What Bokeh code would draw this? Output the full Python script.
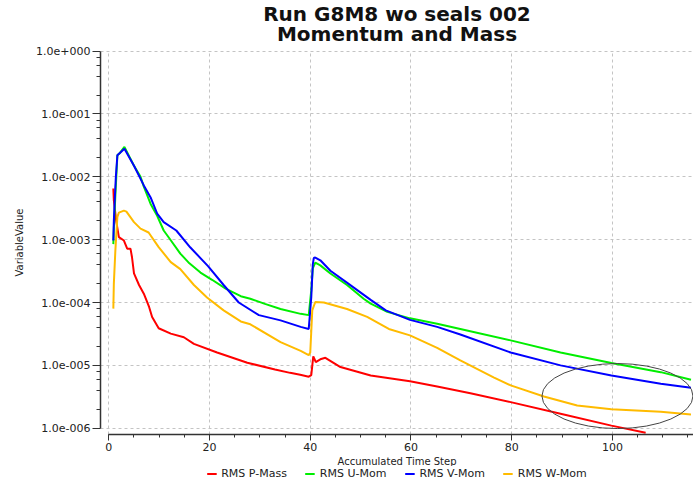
from bokeh.plotting import figure
from bokeh.models import (Range1d, FixedTicker, SingleIntervalTicker, CustomJSTickFormatter,
                          Legend, LegendItem, Title)
from bokeh.layouts import column
from bokeh.embed import file_html
from bokeh.resources import INLINE

# ---------------- data ----------------
title_line1 = "Run G8M8 wo seals 002"
title_line2 = "Momentum and Mass"
x_label = "Accumulated Time Step"
y_label = "VariableValue"
series_names = ["RMS P-Mass", "RMS U-Mom", "RMS V-Mom", "RMS W-Mom"]
series_colors = ["#ff0000", "#00ee00", "#0000ff", "#ffbb00"]

p_mass_x = [0.9, 1.0, 1.5, 2.0, 3.0, 3.65, 4.3, 4.6, 5.0, 6.0, 6.95, 8.0, 8.6, 9.9, 12.3, 14.9,
            16.9, 21.5, 27.5, 33.0, 36.0, 38.0, 39.7, 40.2, 40.6, 41.1, 42.0, 43.0, 46.0, 52.0,
            59.8, 65.2, 71.8, 79.8, 89.7, 99.8, 106.6]
p_mass_y = [6.5e-3, 4.2e-3, 1.9e-3, 1.1e-3, 9.7e-4, 7.2e-4, 7.2e-4, 5.3e-4, 2.9e-4, 1.9e-4, 1.38e-4,
            8.5e-5, 5.9e-5, 3.9e-5, 3.2e-5, 2.8e-5, 2.2e-5, 1.6e-5, 1.1e-5, 8.6e-6, 7.6e-6, 7.1e-6,
            6.6e-6, 7.0e-6, 1.39e-5, 1.13e-5, 1.25e-5, 1.32e-5, 9.4e-6, 6.9e-6, 5.6e-6, 4.6e-6,
            3.6e-6, 2.6e-6, 1.7e-6, 1.1e-6, 8.5e-7]

u_mom_x = [0.9, 1.0, 1.3, 1.7, 2.2, 3.1, 5.0, 6.3, 6.95, 8.3, 9.6, 10.9, 12.3, 14.2, 16.0, 18.2,
           20.5, 23.2, 26.2, 28.1, 31.0, 34.1, 38.1, 39.7, 40.2, 40.5, 41.0, 42.0, 44.0, 47.3,
           50.6, 52.0, 55.3, 59.8, 65.2, 69.8, 79.8, 89.7, 99.8, 109.6, 115.6]
u_mom_y = [8.5e-4, 1.5e-3, 5.0e-3, 2.2e-2, 2.4e-2, 3.0e-2, 1.5e-2, 1.0e-2, 7.0e-3, 3.7e-3, 2.4e-3,
           1.4e-3, 9.8e-4, 6.0e-4, 4.2e-4, 3.0e-4, 2.3e-4, 1.66e-4, 1.26e-4, 1.15e-4, 9.5e-5,
           7.9e-5, 6.6e-5, 6.3e-5, 1.56e-4, 3.5e-4, 4.3e-4, 3.9e-4, 2.9e-4, 1.9e-4, 1.15e-4,
           9.6e-5, 7.1e-5, 5.6e-5, 4.6e-5, 3.8e-5, 2.5e-5, 1.6e-5, 1.09e-5, 7.8e-6, 5.9e-6]

v_mom_x = [0.9, 1.0, 1.2, 1.4, 1.7, 2.2, 3.1, 5.0, 6.95, 8.3, 9.6, 10.9, 13.4, 16.2, 19.7, 22.8,
           25.8, 29.8, 34.1, 38.1, 39.7, 40.2, 40.5, 40.7, 41.0, 42.0, 44.0, 47.0, 52.0, 55.0,
           59.8, 65.2, 69.8, 79.8, 89.7, 99.8, 109.6, 115.6]
v_mom_y = [9.7e-4, 2.0e-3, 4.7e-3, 1.0e-2, 2.2e-2, 2.4e-2, 2.8e-2, 1.5e-2, 7.3e-3, 4.7e-3, 2.6e-3,
           1.9e-3, 1.4e-3, 7.5e-4, 3.8e-4, 1.9e-4, 1.0e-4, 6.3e-5, 5.2e-5, 4.1e-5, 3.8e-5, 1.2e-4,
           4.0e-4, 5.1e-4, 5.2e-4, 4.7e-4, 3.2e-4, 2.15e-4, 1.1e-4, 7.5e-5, 5.3e-5, 4.1e-5,
           3.1e-5, 1.6e-5, 1.0e-5, 6.9e-6, 5.1e-6, 4.4e-6]

w_mom_x = [0.9, 1.0, 1.3, 1.7, 2.0, 3.0, 3.5, 5.0, 6.3, 7.9, 9.9, 12.3, 14.2, 16.9, 19.5, 22.8,
           26.2, 28.1, 34.1, 38.1, 39.7, 40.0, 40.4, 41.0, 42.7, 47.3, 51.3, 55.6, 59.8, 65.2,
           69.8, 76.5, 79.8, 86.4, 93.0, 99.8, 109.6, 115.6]
w_mom_y = [8.0e-5, 2.0e-4, 6.7e-4, 2.3e-3, 2.7e-3, 2.9e-3, 2.8e-3, 1.9e-3, 1.5e-3, 1.3e-3, 7.6e-4,
           4.4e-4, 3.4e-4, 1.9e-4, 1.2e-4, 7.5e-5, 5.0e-5, 4.5e-5, 2.35e-5, 1.7e-5, 1.45e-5,
           1.6e-5, 7.5e-5, 1.02e-4, 1.0e-4, 7.9e-5, 5.9e-5, 3.8e-5, 3.0e-5, 1.9e-5, 1.2e-5,
           6.4e-6, 4.8e-6, 3.2e-6, 2.3e-6, 2.0e-6, 1.82e-6, 1.66e-6]

y_ticks = [1e-6, 1e-5, 1e-4, 1e-3, 1e-2, 1e-1, 1e0]
y_minor_mantissas = [2, 4, 6, 8]
x_tick_interval = 20

# annotation ellipse (data centre, screen size)
ell_x = [101.0]
ell_y = [3.25e-6]

# ---------------- main figure ----------------
FONT = "DejaVu Sans"
p = figure(frame_width=593, frame_height=384,
           x_range=Range1d(-1.65, 116.1), y_range=Range1d(10 ** -6.1, 10 ** 0.01),
           y_axis_type="log", output_backend="svg", toolbar_location=None,
           min_border_left=100, min_border_top=50, min_border_right=0, min_border_bottom=0)
p.outline_line_color = None
p.background_fill_color = "white"
p.border_fill_color = "white"

y_minor = [m * t for t in y_ticks[:-1] for m in y_minor_mantissas]
yt = FixedTicker(ticks=y_ticks, minor_ticks=y_minor)
p.yaxis.ticker = yt
p.ygrid.ticker = yt
xt = SingleIntervalTicker(interval=x_tick_interval, num_minor_ticks=4)
p.xaxis.ticker = xt
p.xgrid.ticker = xt

p.yaxis.formatter = CustomJSTickFormatter(code="""
const e = Math.round(Math.log10(tick));
const s = e < 0 ? '-' : '+';
return '1.0e' + s + String(Math.abs(e)).padStart(3, '0');
""")

for ax in (p.xaxis, p.yaxis):
    ax.axis_line_color = "#333333"
    ax.axis_line_width = 1.5
    ax.major_tick_line_color = "#333333"
    ax.minor_tick_line_color = "#333333"
    ax.major_tick_in = 0
    ax.minor_tick_in = 0
    ax.major_label_text_font = FONT
    ax.major_label_text_font_size = "11px"
    ax.major_label_text_color = "#222222"
    ax.axis_label_text_font = FONT
    ax.axis_label_text_font_size = "10px"
    ax.axis_label_text_font_style = "normal"
    ax.axis_label_text_color = "#222222"

p.yaxis.major_tick_out = 8
p.yaxis.minor_tick_out = 4
p.yaxis.major_label_standoff = 2
p.yaxis.axis_label = y_label
p.yaxis.axis_label_standoff = 8
p.yaxis.bounds = (y_ticks[0], y_ticks[-1])

p.xaxis.major_tick_out = 6
p.xaxis.minor_tick_out = 3
p.xaxis.major_label_standoff = 2
p.xaxis.bounds = (0, 116.1)

for g in (p.xgrid, p.ygrid):
    g.grid_line_color = "#c4c4c4"
    g.grid_line_dash = "3 3"
    g.grid_line_width = 1

xs = [p_mass_x, u_mom_x, v_mom_x, w_mom_x]
ys = [p_mass_y, u_mom_y, v_mom_y, w_mom_y]
for col, x, y in zip(series_colors, xs, ys):
    p.line(x, y, line_color=col, line_width=2)

p.ellipse(x=ell_x, y=ell_y, width=151, height=65, width_units="screen", height_units="screen",
          fill_color=None, line_color="#444444", line_width=1)

# x axis title as a compact "below" title
p.add_layout(Title(text=x_label, align="center", text_font=FONT, text_font_size="10px",
                   text_font_style="normal", text_color="#222222", standoff=0), "below")

# two centred title lines (first added is nearest to the frame)
p.add_layout(Title(text=title_line2, align="center", text_font=FONT, text_font_size="20px",
                   text_font_style="bold", text_color="#111111", standoff=9), "above")
p.add_layout(Title(text=title_line1, align="center", text_font=FONT, text_font_size="20px",
                   text_font_style="bold", text_color="#111111", standoff=-21), "above")

# ---------------- legend strip ----------------
# the same series are drawn here outside the visible range; only the legend shows
p2 = figure(width=693, height=14, x_range=Range1d(0, 1), y_range=Range1d(10, 11),
            toolbar_location=None, output_backend="svg", x_axis_location=None,
            y_axis_location=None, min_border=0)
p2.outline_line_color = None
p2.xgrid.visible = False
p2.ygrid.visible = False
items = []
for name, col, x, y in zip(series_names, series_colors, xs, ys):
    r = p2.line(x, y, line_color=col, line_width=2)
    items.append(LegendItem(label=name, renderers=[r]))
legend = Legend(items=items, orientation="horizontal", location="center",
                glyph_width=10, glyph_height=10, label_height=10, label_standoff=5, spacing=18,
                padding=0, margin=0, border_line_color=None, background_fill_alpha=0,
                label_text_font=FONT, label_text_font_size="11px", label_text_color="#222222")
p2.add_layout(legend)

layout = column(p, p2, spacing=0)
open("out.html", "w").write(file_html(layout, INLINE))
